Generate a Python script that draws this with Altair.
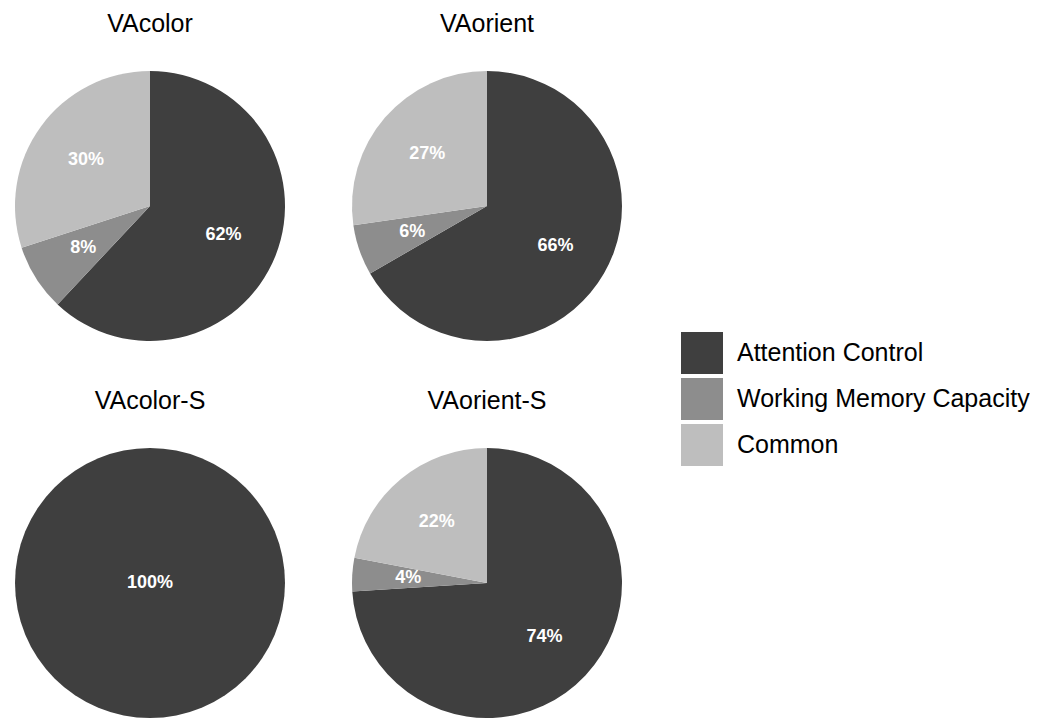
import altair as alt
import pandas as pd

panels = ["VAcolor", "VAorient", "VAcolor-S", "VAorient-S"]
components = ["Attention Control", "Working Memory Capacity", "Common"]
attention_control = [62, 66, 100, 74]
working_memory = [8, 6, 0, 4]
common = [30, 27, 0, 22]
colors = ["#3f3f3f", "#8d8d8d", "#bebebe"]

rows = []
for i, p in enumerate(panels):
    for j, (comp, vals) in enumerate(zip(components, [attention_control, working_memory, common])):
        v = vals[i]
        rows.append({"panel": p, "component": comp, "idx": j, "value": v, "label": f"{v}%"})
df = pd.DataFrame(rows)

FONT = "Liberation Sans"


def pie(p):
    base = alt.Chart(df).transform_filter(alt.datum.panel == p)
    arc = base.mark_arc().encode(
        theta=alt.Theta("value:Q", stack=True),
        color=alt.Color(
            "component:N",
            scale=alt.Scale(domain=components, range=colors),
            legend=alt.Legend(
                title=None,
                orient="none",
                legendX=666,
                legendY=261,
                symbolType="square",
                symbolSize=1764,
                symbolStrokeWidth=0,
                symbolOpacity=1,
                labelFontSize=25,
                labelFont=FONT,
                labelColor="black",
                labelOffset=14,
                labelLimit=0,
                rowPadding=4,
                padding=0,
            ),
        ),
        order=alt.Order("idx:Q"),
    )
    text = (
        base.transform_filter(alt.datum.value > 0)
        .transform_calculate(lr="datum.value >= 100 ? 0 : 79")
        .mark_text(fontSize=18, fontWeight="bold", color="white", font=FONT)
        .encode(
            theta=alt.Theta("value:Q", stack=True),
            radius=alt.Radius("lr:Q", scale=None),
            text="label:N",
            order=alt.Order("idx:Q"),
        )
    )
    return alt.layer(arc, text).properties(
        width=270,
        height=270,
        title=alt.TitleParams(
            p, fontSize=25, font=FONT, fontWeight="normal", color="black",
            baseline="alphabetic", offset=14, anchor="middle",
        ),
    )


row1 = alt.hconcat(pie(panels[0]), pie(panels[1]), spacing=67)
row2 = alt.hconcat(pie(panels[2]), pie(panels[3]), spacing=67)
chart = (
    alt.vconcat(row1, row2, spacing=48)
    .properties(padding={"left": 7, "top": 4, "right": 0, "bottom": 0})
    .configure_view(stroke=None)
)

chart.save("out.html", embed_options={"renderer": "svg", "actions": False})
